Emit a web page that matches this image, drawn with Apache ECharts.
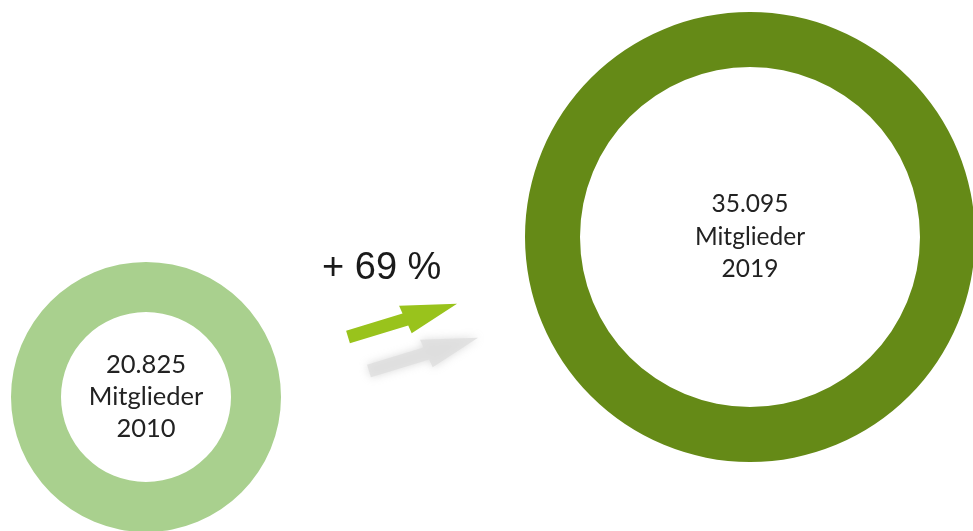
<!DOCTYPE html>
<html>
<head>
<meta charset="utf-8">
<script src="https://cdn.jsdelivr.net/npm/echarts@6/dist/echarts.min.js"></script>
<style>
  html, body { margin: 0; padding: 0; background: #fff; }
  #chart { width: 973px; height: 531px; }
</style>
</head>
<body>
<div id="chart"></div>
<script>
  // Mitglieder je Jahr
  var years = ['2010', '2019']
  var members = [20825, 35095]
  var ringColors = ['#a9d08e', '#658a17']

  var growth = Math.round((members[1] / members[0] - 1) * 100)

  function fmt(v) {
    // deutscher Tausenderpunkt
    return String(v).replace(/\B(?=(\d{3})+(?!\d))/g, '.')
  }

  // Pfeil als Polygon, entlang der Richtung gedreht
  function arrowPoints(x0, y0, angleDeg) {
    var local = [[0, -6.5], [59, -6.5], [58, -15], [114, 0], [62, 15], [61, 6.5], [0, 6.5]]
    var a = angleDeg * Math.PI / 180
    var c = Math.cos(a), s = Math.sin(a)
    return local.map(function (p) {
      return [x0 + p[0] * c - p[1] * s, y0 + p[0] * s + p[1] * c]
    })
  }

  var chart = echarts.init(document.getElementById('chart'))

  var ringLayout = [
    { center: [146, 397], radius: [85, 135], fontSize: 25.5, lineHeight: 32 },
    { center: [750, 237], radius: [170, 225], fontSize: 24.5, lineHeight: 32.5 }
  ]

  var series = years.map(function (y, i) {
    return {
      type: 'pie',
      silent: true,
      animation: false,
      center: ringLayout[i].center,
      radius: ringLayout[i].radius,
      itemStyle: { color: ringColors[i] },
      label: {
        show: true,
        position: 'center',
        formatter: fmt(members[i]) + '\nMitglieder\n' + y,
        fontFamily: 'Lato, "Open Sans", sans-serif',
        fontSize: ringLayout[i].fontSize,
        lineHeight: ringLayout[i].lineHeight,
        color: '#222'
      },
      labelLine: { show: false },
      data: [{ value: members[i], name: y }]
    }
  })

  var option = {
    backgroundColor: '#fff',
    series: series,
    graphic: [
      {
        type: 'polygon',
        shape: { points: arrowPoints(369, 371, -17) },
        style: { fill: '#dedede', shadowBlur: 8, shadowColor: 'rgba(205,205,205,0.9)', opacity: 0.8 },
        silent: true
      },
      {
        type: 'polygon',
        shape: { points: arrowPoints(348, 337, -17) },
        style: { fill: '#99c31c' },
        silent: true
      },
      {
        type: 'text',
        x: 322,
        y: 269,
        style: {
          text: '+ ' + growth + ' %',
          font: '38px "Liberation Sans", Arial, sans-serif',
          fill: '#1a1a1a',
          verticalAlign: 'middle'
        },
        silent: true
      }
    ]
  }

  chart.setOption(option)
</script>
</body>
</html>
